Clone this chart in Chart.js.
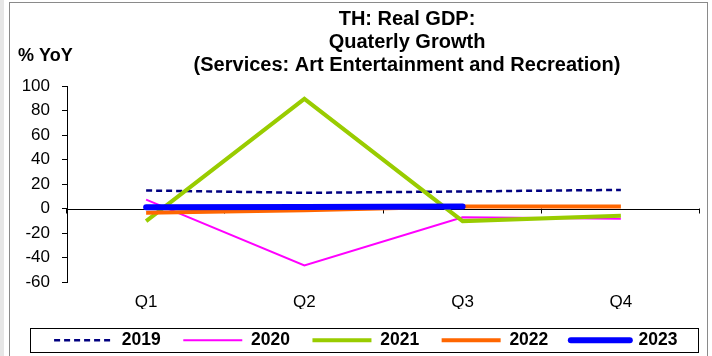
<!DOCTYPE html>
<html>
<head>
<meta charset="utf-8">
<script src="https://cdn.jsdelivr.net/npm/chart.js@4.4.1/dist/chart.umd.min.js"></script>
<style>
  html, body { margin: 0; padding: 0; background: #fff; }
  #wrap { width: 712px; height: 356px; }
</style>
</head>
<body>
<div id="wrap"><canvas id="chart" width="712" height="356"></canvas></div>
<script>
// data
const quarters = ['Q1', 'Q2', 'Q3', 'Q4'];
const yoy2019 = [14.7, 12.8, 13.9, 15.2];
const yoy2020 = [7.3, -46.5, -7.1, -8.4];
const yoy2021 = [-10.3, 89.5, -10.3, -6.0];
const yoy2022 = [-3.5, -1.5, 1.6, 1.6];
const yoy2023 = [1.1, 1.3, 1.6, null];
const titleLines = ['TH: Real GDP:', 'Quaterly Growth', '(Services: Art Entertainment and Recreation)'];
const yTitle = '% YoY';

const FONT = '"Liberation Sans", Arial, sans-serif';

// frame, titles, zero axis line and legend box
const decor = {
    id: 'decor',
    beforeDraw(chart) {
        const ctx = chart.ctx;
        ctx.save();
        ctx.fillStyle = '#e6e6e6';
        ctx.fillRect(0, 0, 4, chart.height);
        ctx.strokeStyle = '#8a8a8a';
        ctx.lineWidth = 1;
        ctx.strokeRect(9.5, 2.5, 698, chart.height + 10);
        ctx.restore();
    },
    beforeDatasetsDraw(chart) {
        const ctx = chart.ctx;
        const x = chart.scales.x;
        const y0 = chart.scales.y.getPixelForValue(0);
        const n = quarters.length;
        ctx.save();
        ctx.strokeStyle = '#000';
        ctx.lineWidth = 1;
        ctx.beginPath();
        ctx.moveTo(x.left, Math.round(y0) + 0.5);
        ctx.lineTo(x.right, Math.round(y0) + 0.5);
        for (let i = 0; i <= n; i++) {
            const px = Math.round(x.left + i * (x.right - x.left) / n) - 0.5;
            ctx.moveTo(px, y0);
            ctx.lineTo(px, y0 + 5);
        }
        ctx.stroke();
        ctx.restore();
    },
    afterDraw(chart) {
        const ctx = chart.ctx;
        ctx.save();
        ctx.fillStyle = '#000';
        ctx.textAlign = 'center';
        ctx.textBaseline = 'middle';
        ctx.font = 'bold 20px ' + FONT;
        titleLines.forEach((t, i) => ctx.fillText(t, 407, 19 + i * 23));
        ctx.textAlign = 'left';
        ctx.font = 'bold 18px ' + FONT;
        ctx.fillText(yTitle, 18, 56);
        // legend border
        ctx.strokeStyle = '#000';
        ctx.lineWidth = 1;
        ctx.strokeRect(30.5, 328.5, 668, 24);
        ctx.restore();
    }
};

const ctx = document.getElementById('chart').getContext('2d');
new Chart(ctx, {
    type: 'line',
    data: {
        labels: quarters,
        datasets: [
            { label: '2019', data: yoy2019, borderColor: '#000080', backgroundColor: '#000080',
              borderWidth: 2.5, borderDash: [6, 4], order: 5 },
            { label: '2020', data: yoy2020, borderColor: '#FF00FF', backgroundColor: '#FF00FF',
              borderWidth: 2, order: 4 },
            { label: '2021', data: yoy2021, borderColor: '#99CC00', backgroundColor: '#99CC00',
              borderWidth: 4, order: 3 },
            { label: '2022', data: yoy2022, borderColor: '#FF6600', backgroundColor: '#FF6600',
              borderWidth: 4, order: 2 },
            { label: '2023', data: yoy2023, borderColor: '#0000FF', backgroundColor: '#0000FF',
              borderWidth: 6, borderCapStyle: 'round', order: 1 },
        ],
    },
    options: {
        responsive: false,
        animation: false,
        elements: { point: { radius: 0 }, line: { tension: 0 } },
        layout: { padding: { left: 12, right: 12, top: 86, bottom: 0 } },
        scales: {
            x: {
                offset: true,
                grid: { display: false, drawTicks: false },
                border: { display: false },
                ticks: { color: '#000', font: { family: FONT, size: 17 }, padding: 10 },
                afterFit(scale) { scale.height = 27; },
            },
            y: {
                min: -60,
                max: 100,
                ticks: { stepSize: 20, color: '#000', font: { family: FONT, size: 17 }, padding: 12 },
                grid: { drawOnChartArea: false, tickLength: 5, color: '#000' },
                border: { color: '#000' },
                afterFit(scale) { scale.width = 55; },
            },
        },
        plugins: {
            title: { display: false },
            tooltip: { enabled: false },
            legend: {
                position: 'bottom',
                align: 'end',
                maxHeight: 47,
                labels: {
                    usePointStyle: true,
                    pointStyle: 'line',
                    pointStyleWidth: 59,
                    padding: 22.5,
                    color: '#000',
                    font: { family: FONT, size: 17.5, weight: 'bold' },
                    sort: (a, b) => a.datasetIndex - b.datasetIndex,
                    generateLabels(chart) {
                        // line styles come from the dataset, not the point
                        const items = Chart.defaults.plugins.legend.labels.generateLabels(chart);
                        items.forEach(it => {
                            const ds = chart.data.datasets[it.datasetIndex];
                            it.lineDash = ds.borderDash || [];
                            it.lineWidth = ds.borderWidth;
                            it.lineCap = ds.borderCapStyle || 'butt';
                            it.strokeStyle = ds.borderColor;
                        });
                        return items;
                    },
                },
            },
        },
    },
    plugins: [decor],
});
</script>
</body>
</html>
